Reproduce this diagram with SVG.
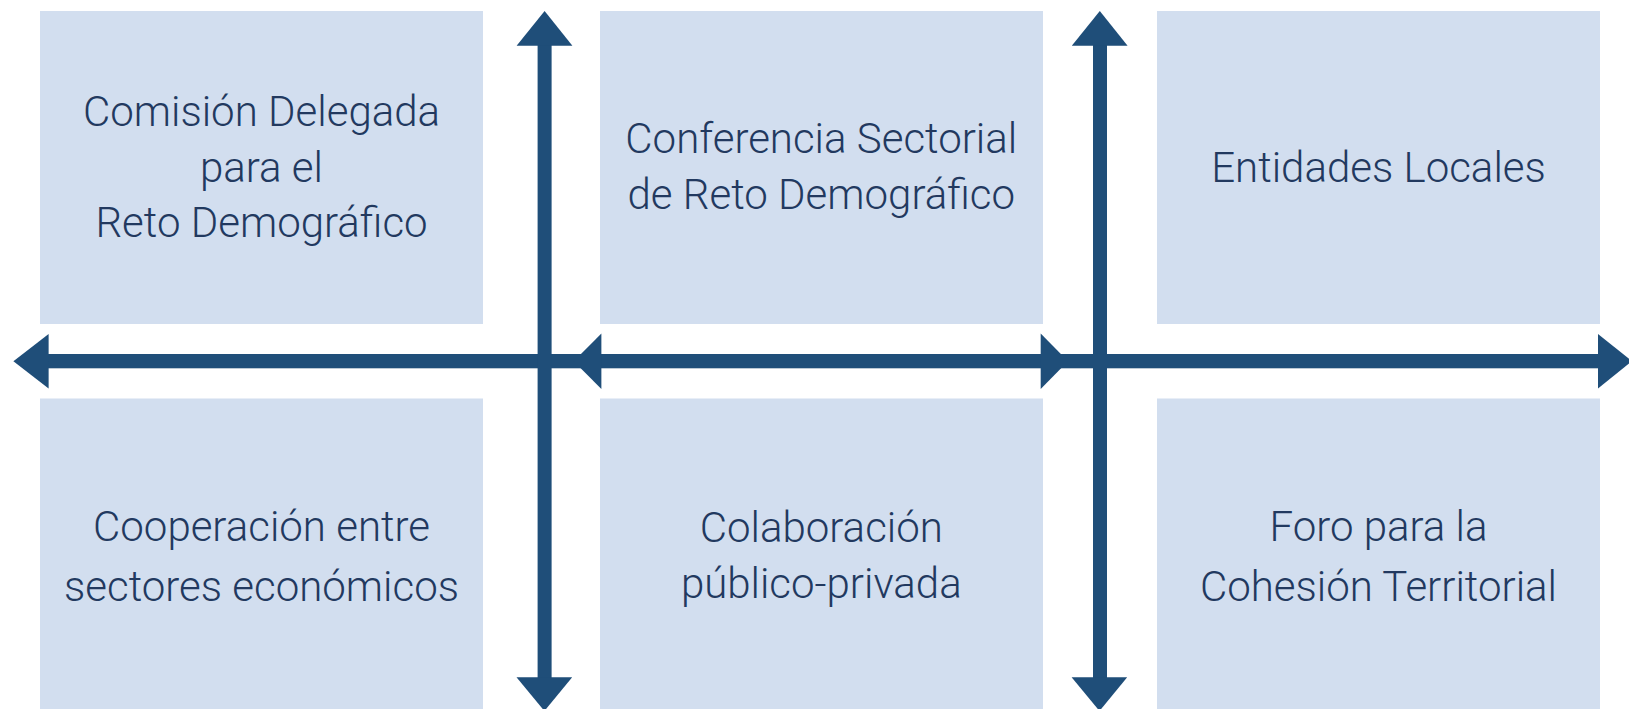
<svg xmlns="http://www.w3.org/2000/svg" width="1629" height="709" viewBox="0 0 1629 709">
<style>
.box{fill:#d2deef}
.lbl{font-family:"Roboto Light",Roboto,"Liberation Sans",sans-serif;font-weight:300;font-size:42px;fill:#22395f;text-anchor:middle}
.arr{fill:#1f4e79}
</style>
<rect width="1629" height="709" fill="#ffffff"/>
<g id="node-comision">
<rect class="box" x="40" y="11" width="443" height="313"/>
<text class="lbl"><tspan x="261.5" y="126">Comisión Delegada</tspan><tspan x="261.5" y="181.7">para el</tspan><tspan x="261.5" y="237.3">Reto Demográfico</tspan></text>
</g>
<g id="node-conferencia">
<rect class="box" x="600" y="11" width="443" height="313"/>
<text class="lbl"><tspan x="821.3" y="153.3">Conferencia Sectorial</tspan><tspan x="821.3" y="209.3">de Reto Demográfico</tspan></text>
</g>
<g id="node-entidades">
<rect class="box" x="1157" y="11" width="443" height="313"/>
<text class="lbl" x="1378.5" y="181.7">Entidades Locales</text>
</g>
<g id="node-cooperacion">
<rect class="box" x="40" y="398.5" width="443" height="311"/>
<text class="lbl"><tspan x="261.5" y="541.3">Cooperación entre</tspan><tspan x="261.5" y="600.7">sectores económicos</tspan></text>
</g>
<g id="node-colaboracion">
<rect class="box" x="600" y="398.5" width="443" height="311"/>
<text class="lbl"><tspan x="821.3" y="542">Colaboración</tspan><tspan x="821.3" y="598">público-privada</tspan></text>
</g>
<g id="node-foro">
<rect class="box" x="1157" y="398.5" width="443" height="311"/>
<text class="lbl"><tspan x="1378.5" y="541.3">Foro para la</tspan><tspan x="1378.5" y="601.3">Cohesión Territorial</tspan></text>
</g>
<g id="connectors" class="arr">
<rect x="40" y="354" width="1562" height="14.3"/>
<polygon points="13.4,361.2 48.6,334 48.6,388.5"/>
<polygon points="573.7,361.2 601.4,333.5 601.4,389"/>
<polygon points="1068,361.2 1040.7,333.5 1040.7,389"/>
<polygon points="1632,361.2 1598,334 1598,388.5"/>
<rect x="537.6" y="40" width="14" height="642"/>
<polygon points="544.6,11 516.6,45.7 572.4,45.7"/>
<polygon points="544.4,711 516.5,677.3 572.2,677.3"/>
<rect x="1093" y="40" width="14" height="642"/>
<polygon points="1099.8,11 1071.8,45.7 1127.6,45.7"/>
<polygon points="1099.5,711 1071.6,677.3 1127.2,677.3"/>
</g>
</svg>
